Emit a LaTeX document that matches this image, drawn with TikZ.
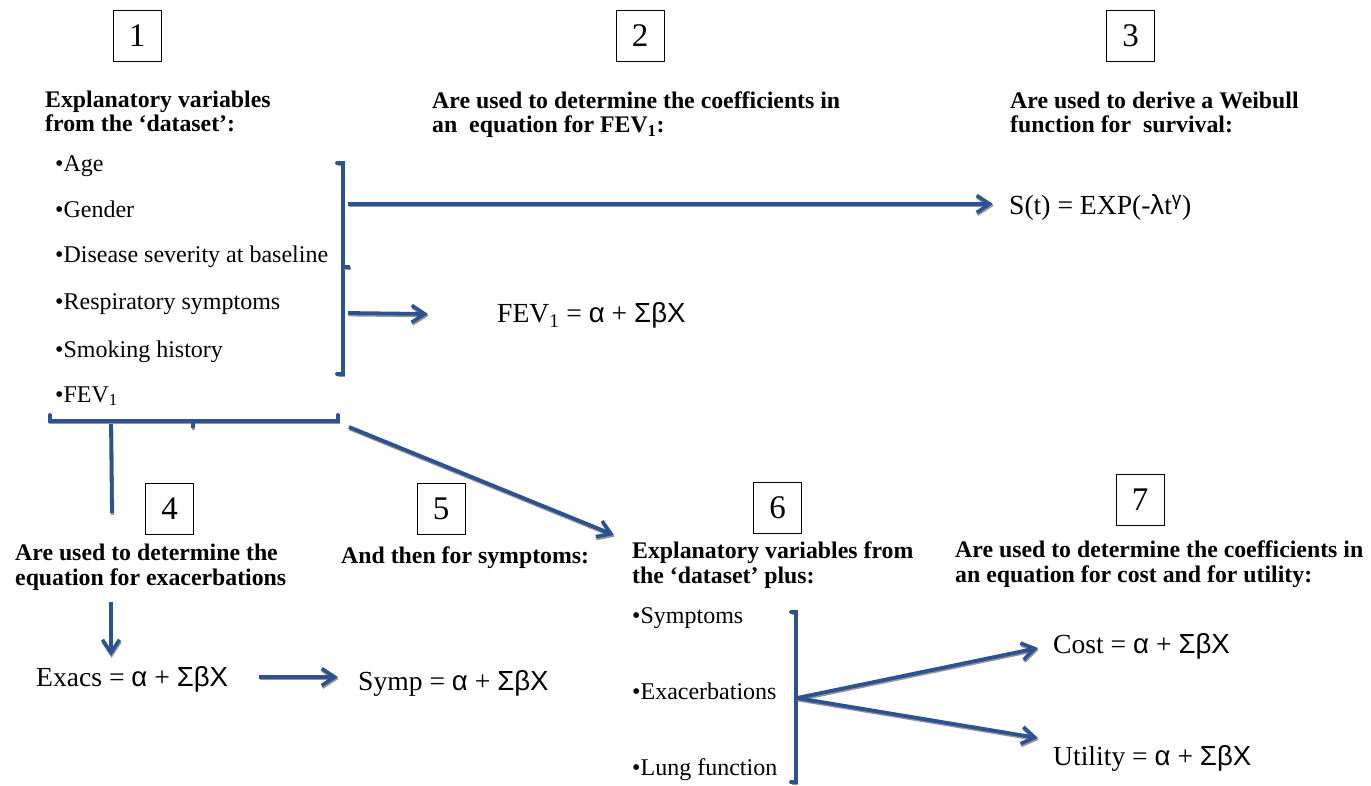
\documentclass[tikz,border=0pt]{standalone}
\usepackage{fontspec}
\setmainfont{Liberation Serif}
\newfontfamily\gk{Liberation Sans}
\usetikzlibrary{arrows.meta}
\definecolor{flow}{RGB}{44,82,145}
\definecolor{shade}{RGB}{150,150,150}
\newcommand\gr[1]{{\gk #1}}

\begin{document}
\begin{tikzpicture}[x=1pt,y=-1pt,
  numbox/.style={draw, line width=0.9pt, minimum width=48pt, minimum height=51pt,
    inner sep=0pt, font=\fontsize{33}{33}\selectfont},
  % multi-line headings: the base anchor sits on the last line
  head/.style={anchor=base west, align=left, inner sep=0pt,
    font=\fontsize{23.8}{24.5}\selectfont\bfseries},
  item/.style={anchor=base west, inner sep=0pt, font=\fontsize{24}{25}\selectfont},
  eqn/.style={anchor=base west, inner sep=0pt, font=\fontsize{27.6}{28}\selectfont},
  link/.style={draw=flow, line width=3.8pt,
    preaction={draw=shade, line width=3.2pt, transform canvas={shift={(0.6pt,-1.8pt)}}}},
  flowarrow/.style={link, -{Straight Barb[length=13pt,width=17pt,line width=3.6pt]}},
]
\useasboundingbox[fill=white] (0,0) rectangle (1371,786);

% step numbers
\node[numbox] (b1) at (137,35.5) {1};
\node[numbox] (b2) at (640,35.5) {2};
\node[numbox] (b3) at (1130.5,35.5) {3};
\node[numbox] (b4) at (169.5,508.5) {4};
\node[numbox] (b5) at (441,508.5) {5};
\node[numbox] (b6) at (777.5,508) {6};
\node[numbox] (b7) at (1140,499.5) {7};

% headings
\node[head] (h1) at (45,132) {Explanatory variables\\from the `dataset':};
\node[head] (h2) at (432,133) {Are used to determine the coefficients in\\an\ \ equation for FEV\textsubscript{1}:};
\node[head] (h3) at (1010,133) {Are used to derive a Weibull\\function for\ \ survival:};
\node[head] (h4) at (15,585) {Are used to determine the\\equation for exacerbations};
\node[head] (h5) at (341,563) {And then for symptoms:};
\node[head] (h6) at (632,583) {Explanatory variables from\\the `dataset' plus:};
\node[head] (h7) at (955,582) {Are used to determine the coefficients in\\an equation for cost and for utility:};

% explanatory variables
\node[item] (age) at (55,172) {•Age};
\node[item] (gen) at (55,218) {•Gender};
\node[item] (sev) at (55,263) {•Disease severity at baseline};
\node[item] (resp) at (55,310) {•Respiratory symptoms};
\node[item] (smk) at (55,357) {•Smoking history};
\node[item] (fev) at (55,402) {•FEV\textsubscript{1}};

\node[item] (sym) at (632,623) {•Symptoms};
\node[item] (exa) at (632,699) {•Exacerbations};
\node[item] (lung) at (632,775) {•Lung function};

% equations
\node[eqn] (surv) at (1009,215) {S(t) = EXP(-\gr{λ}t\textsuperscript{\gr{γ}})};
\node[eqn] (feveq) at (497,323) {FEV\textsubscript{1} = \gr{α} + \gr{ΣβX}};
\node[eqn] (exeq) at (36,686) {Exacs = \gr{α} + \gr{ΣβX}};
\node[eqn] (syeq) at (358,690) {Symp = \gr{α} + \gr{ΣβX}};
\node[eqn] (coeq) at (1053,653) {Cost = \gr{α} + \gr{ΣβX}};
\node[eqn] (uteq) at (1053,765) {Utility = \gr{α} + \gr{ΣβX}};

% brackets
\draw[link, line cap=round] (337,163) -- (343,163) -- (343,374) -- (337,374);
\draw[link] (343,267) -- (350,267);
\draw[link, line cap=round] (50,415) -- (50,421) -- (338,421) -- (338,415);
\draw[link] (193,421) -- (193,428);
\draw[link, line cap=round] (791,612) -- (796,612) -- (796,782) -- (791,782);

% connector end points
\coordinate (s1) at (348,204);  \coordinate (t1) at (993,204);
\coordinate (s2) at (348,313);  \coordinate (t2) at (428,314);
\coordinate (s3) at (111,424);  \coordinate (t3) at (112,513);
\coordinate (s4) at (111,602);  \coordinate (t4) at (111,656);
\coordinate (s5) at (349,427);  \coordinate (t5) at (614,535);
\coordinate (s6) at (259,677);  \coordinate (t6) at (338,677);
\coordinate (s7) at (797,698);
\coordinate (t7) at (1038,648); \coordinate (t8) at (1038,738);

% connectors
\draw[flowarrow] (s1) -- (t1);
\draw[flowarrow] (s2) -- (t2);
\draw[link] (s3) -- (t3);
\draw[flowarrow] (s4) -- (t4);
\draw[flowarrow] (s5) -- (t5);
\draw[flowarrow] (s6) -- (t6);
\draw[flowarrow] (s7) -- (t7);
\draw[flowarrow] (s7) -- (t8);
\end{tikzpicture}
\end{document}
